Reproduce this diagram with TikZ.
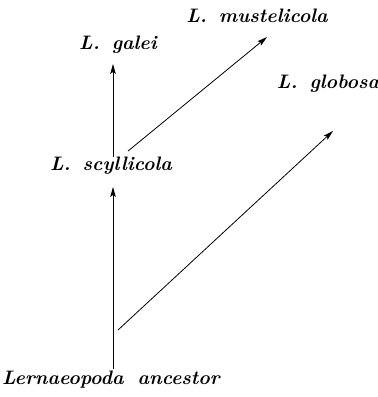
\documentclass[tikz,border=0pt]{standalone}
\usepackage{tikz}
\usetikzlibrary{arrows.meta, positioning}

\begin{document}
\begin{tikzpicture}[
    x=1pt, y=-1pt,
    taxon/.style={font=\fontsize{19.5}{22}\selectfont\bfseries\itshape, inner sep=2pt},
    arrow/.style={-{Stealth[length=10pt,width=5.5pt,inset=2pt]}, line width=0.8pt},
    branch/.style={line width=0.8pt}
]
\useasboundingbox (0,0) rectangle (378,397);

\node[taxon] (anc) at (111,380) {Lernaeopoda\hspace{6pt} ancestor};
\node[taxon] (scy) at (111,166) {L.\hspace{4pt} scyllicola};
\node[taxon] (gal) at (118,45) {L.\hspace{4pt} galei};
\node[taxon] (mus) at (257,16) {L.\hspace{4pt} mustelicola};
\node[taxon] (glo) at (328,84) {L.\hspace{4pt} globosa};

\coordinate (split) at (118,330);

\draw[arrow] ([xshift=2pt]anc.north) -- ([xshift=2pt,yshift=-10pt]scy.south);
\draw[arrow] ([xshift=2pt,yshift=-2pt]scy.north) -- ([xshift=-5pt,yshift=-8pt]gal.south);
\draw[arrow] ([xshift=17pt,yshift=4pt]scy.north) -- ([xshift=10pt,yshift=-12pt]mus.south);
\draw[arrow] (split) -- ([xshift=5pt,yshift=-36pt]glo.south);

\end{tikzpicture}
\end{document}
